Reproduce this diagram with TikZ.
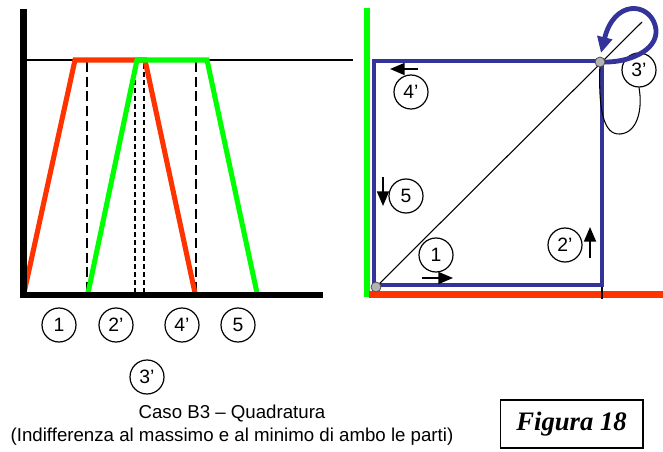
\documentclass[tikz,border=0pt]{standalone}
\usepackage{fontspec}
\setmainfont{Liberation Sans}
\newfontfamily\figfont{Liberation Serif}
\usetikzlibrary{arrows.meta}
\definecolor{redc}{HTML}{FF3300}
\definecolor{greenc}{HTML}{00FF00}
\definecolor{bluec}{HTML}{333399}
\definecolor{dotc}{HTML}{B4B4B4}
\tikzset{
  lab/.style={circle,draw,line width=0.9pt,minimum size=25.5pt,inner sep=0pt,font=\fontsize{14.5}{14.5}\selectfont},
  axis/.style={line width=5pt},
  redl/.style={redc,line width=3.8pt},
  greenl/.style={greenc,line width=3.8pt},
  longdash/.style={line width=0.9pt,dash pattern=on 7.5pt off 3.5pt},
  shortdash/.style={line width=0.9pt,dash pattern=on 3.5pt off 2.5pt},
  bluel/.style={bluec,line width=3.6pt},
  smallarrow/.style={line width=1.3pt,-{Triangle[length=11pt,width=9pt]}},
  gdot/.style={circle,draw=black!70,fill=dotc,line width=0.6pt,minimum size=7.5pt,inner sep=0pt},
}
\begin{document}
\begin{tikzpicture}[x=0.75pt,y=-0.75pt]
\useasboundingbox (0,0) rectangle (663,452);
% ---------- left chart ----------
\draw[line width=0.8pt] (27,60) -- (353,60);
\draw[longdash] (87,62) -- (87,293);
\draw[longdash] (196,62) -- (196,293);
\draw[shortdash] (135,64) -- (135,293);
\draw[shortdash] (144,64) -- (144,293);
\draw[redl,line join=miter] (24,293) -- (75,60) -- (145,60) -- (195,293);
\draw[greenl,line join=miter] (88,293) -- (137,60) -- (207,60) -- (257,293);
\draw[axis] (23.5,9) -- (23.5,298);
\draw[axis] (20,295) -- (323,295);
\node[lab] (l1) at (59,325) {1};
\node[lab] (l2) at (116,325) {2’};
\node[lab] (l4) at (182,325) {4’};
\node[lab] (l5) at (238,325) {5};
\node[lab] (l3) at (147,377) {3’};
% ---------- right chart ----------
\draw[greenc,line width=5pt] (367,8) -- (367,297);
\draw[redc,line width=5.5pt] (369,294.5) -- (663,294.5);
\draw[line width=0.8pt] (602,285) -- (602,299);
\draw[bluel,line join=miter] (374,285) -- (374,61) -- (602,61) -- (602,285) -- cycle;
\coordinate (c0) at (376,287);
\coordinate (c1) at (600,62);
\coordinate (diagend) at (642,22);
\draw[line width=0.8pt] (c0) -- (diagend);
\node[lab] (r3) at (639,70) {3’};
\draw[line width=0.8pt] (c1) .. controls (598,112) and (604,135) .. (620,134)
      .. controls (637,133) and (643,110) .. (r3.south);
\draw[bluel,-{Triangle[length=12pt,width=11pt]}] (c1) -- (606,62) .. controls (632,62) and (662,48) .. (655,25)
      .. controls (648,2) and (614,0) .. (601,53);
\node[gdot] (p0) at (c0) {};
\node[gdot] (p1) at (c1) {};
\node[lab] (r4) at (411,92) {4’};
\node[lab] (r5) at (406,196) {5};
\node[lab] (r1) at (436,255) {1};
\node[lab] (r2) at (565,245) {2’};
\coordinate (a4s) at (418,69); \coordinate (a4e) at (390,69);
\coordinate (a5s) at (383,177); \coordinate (a5e) at (383,206);
\coordinate (a1s) at (422,278); \coordinate (a1e) at (453,278);
\coordinate (a2s) at (590,258); \coordinate (a2e) at (590,227);
\draw[smallarrow] (a4s) -- (a4e);
\draw[smallarrow] (a5s) -- (a5e);
\draw[smallarrow] (a1s) -- (a1e);
\draw[smallarrow] (a2s) -- (a2e);
% ---------- captions ----------
\node[align=center,font=\fontsize{14}{17}\selectfont] (cap) at (232,425)
  {Caso B3 – Quadratura\\(Indifferenza al massimo e al minimo di ambo le parti)};
\node[draw,line width=1pt,minimum width=107pt,minimum height=36pt,inner sep=0pt,
  font=\figfont\bfseries\itshape\fontsize{20}{20}\selectfont] (fig) at (571.5,424) {Figura 18};
\end{tikzpicture}
\end{document}
